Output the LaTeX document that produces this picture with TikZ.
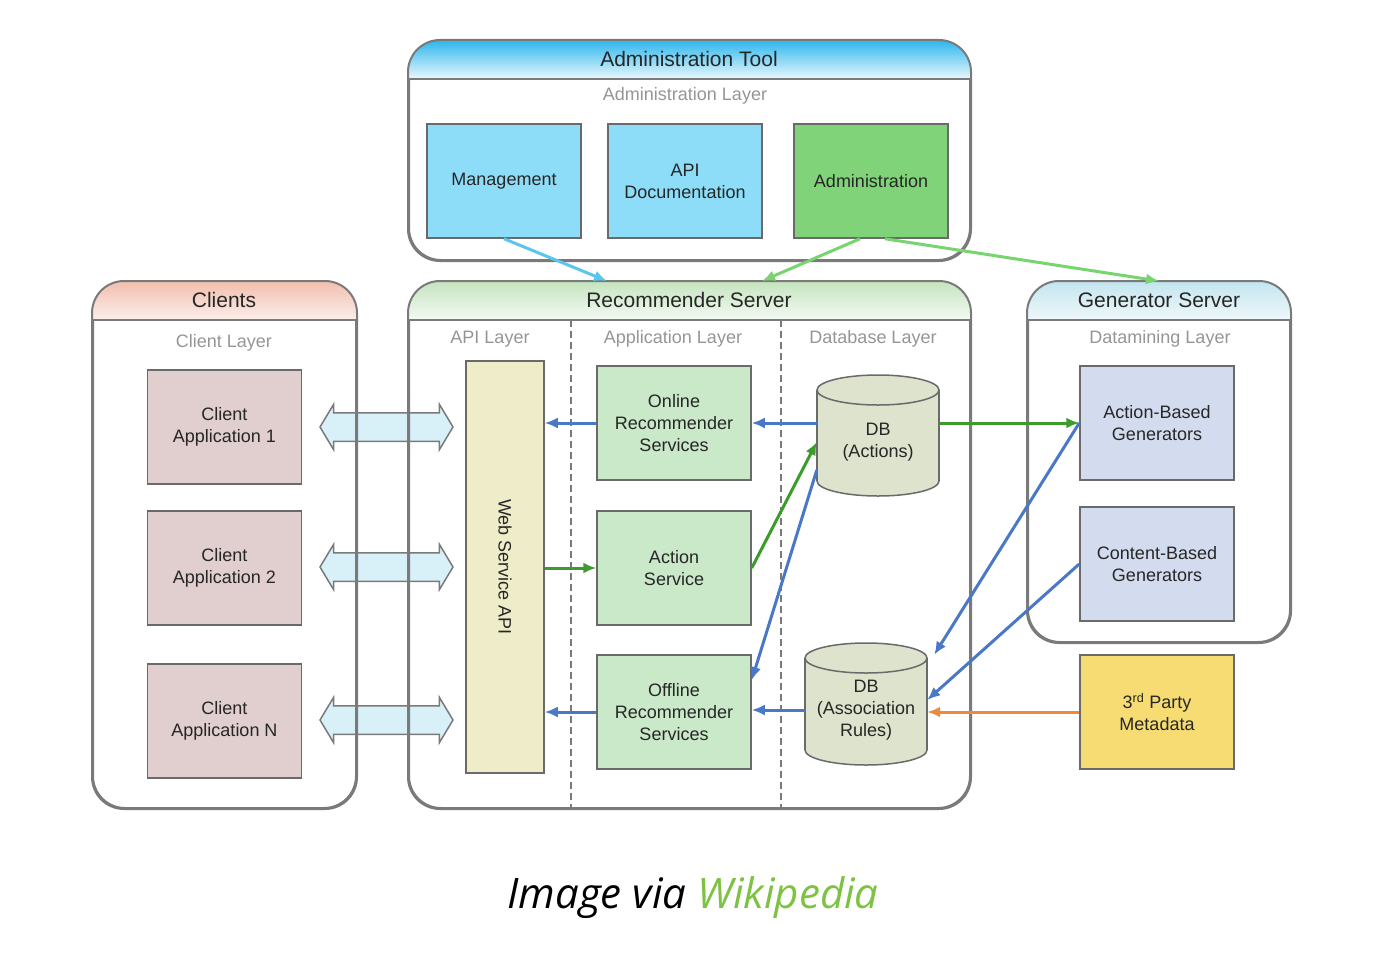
\documentclass[tikz,border=0pt]{standalone}
\usepackage{fontspec}
\setmainfont{Liberation Sans}
\newfontfamily\capfont{Open Sans}
\usetikzlibrary{arrows.meta,shapes.arrows,calc}
\definecolor{boxline}{HTML}{6A6A6A}
\definecolor{contline}{HTML}{7A7A7A}
\definecolor{txt}{HTML}{262626}
\definecolor{laytxt}{HTML}{959595}
\definecolor{mgmtfill}{HTML}{8EDDF8}
\definecolor{admfill}{HTML}{80D378}
\definecolor{clfill}{HTML}{E1CFCF}
\definecolor{wsfill}{HTML}{EFEDC9}
\definecolor{appfill}{HTML}{C9E9C9}
\definecolor{dbfill}{HTML}{DDE3CC}
\definecolor{genfill}{HTML}{D3DCEF}
\definecolor{tpfill}{HTML}{F6DC72}
\definecolor{dblfill}{HTML}{D8F0F8}
\definecolor{cblue}{HTML}{4A78C8}
\definecolor{cgreen}{HTML}{3B9B2B}
\definecolor{lgreen}{HTML}{78D46E}
\definecolor{lblue}{HTML}{58C6EF}
\definecolor{corange}{HTML}{EE8A3C}
\definecolor{wikig}{HTML}{7DC242}
\definecolor{hadmT}{HTML}{2CB6EC}
\definecolor{hadmB}{HTML}{EAF8FD}
\definecolor{hclT}{HTML}{F2BEAE}
\definecolor{hclB}{HTML}{FBEFEA}
\definecolor{hrsT}{HTML}{C4E4BE}
\definecolor{hrsB}{HTML}{F4FAF3}
\definecolor{hgenT}{HTML}{C3E5EE}
\definecolor{hgenB}{HTML}{EFF8FA}
\begin{document}
\begin{tikzpicture}[x=1pt,y=-1pt,
  box/.style={draw=boxline, line width=1.5pt, minimum width=154, minimum height=114,
    align=center, inner sep=0pt, font=\fontsize{18}{22}\selectfont, text=txt},
  cont/.style={draw=contline, line width=2pt, rounded corners=32, inner sep=0pt},
  ttl/.style={font=\fontsize{21}{25}\selectfont, text=txt, inner sep=0pt},
  lay/.style={font=\fontsize{18}{22}\selectfont, text=laytxt, inner sep=0pt},
  dbtext/.style={align=center, inner sep=0pt, font=\fontsize{18}{22}\selectfont, text=txt},
  cyl/.style={fill=dbfill, draw=boxline, line width=1.5pt},
  conn/.style={line width=3pt, -{Latex[length=13pt,width=11pt]}},
  dashsep/.style={draw=contline, line width=1.5pt, dash pattern=on 7pt off 4pt},
  dbl/.style={double arrow, draw=contline, fill=dblfill, line width=1.5pt,
    minimum height=133, minimum width=44, inner xsep=0pt, inner ysep=13.5pt,
    double arrow head extend=8.5pt, double arrow tip angle=118}
]
\useasboundingbox (0,0) rectangle (1394,958);

% double arrows (drawn first so borders show through)
\node[dbl] (a1) at (386.5,427) {};
\node[dbl] (a2) at (386.5,567) {};
\node[dbl] (a3) at (386.5,720) {};

% containers
\node[cont, minimum width=561, minimum height=219] (adm) at (689.5,150.5) {};
\node[cont, minimum width=263, minimum height=526] (cli) at (224.5,545) {};
\node[cont, minimum width=561, minimum height=526] (rs) at (689.5,545) {};
\node[cont, minimum width=262, minimum height=360] (gen) at (1159,462) {};

\begin{scope}
\clip[rounded corners=32] (adm.north west) rectangle (adm.south east);
\shade[top color=hadmT, bottom color=hadmB] (adm.north west) rectangle (970,79);
\end{scope}
\begin{scope}
\clip[rounded corners=32] (cli.north west) rectangle (cli.south east);
\shade[top color=hclT, bottom color=hclB] (cli.north west) rectangle (356,320);
\end{scope}
\begin{scope}
\clip[rounded corners=32] (rs.north west) rectangle (rs.south east);
\shade[top color=hrsT, bottom color=hrsB] (rs.north west) rectangle (970,320);
\end{scope}
\begin{scope}
\clip[rounded corners=32] (gen.north west) rectangle (gen.south east);
\shade[top color=hgenT, bottom color=hgenB] (gen.north west) rectangle (1290,320);
\end{scope}
\draw[contline, line width=2pt, rounded corners=32] (adm.north west) rectangle (adm.south east);
\draw[contline, line width=2pt, rounded corners=32] (cli.north west) rectangle (cli.south east);
\draw[contline, line width=2pt, rounded corners=32] (rs.north west) rectangle (rs.south east);
\draw[contline, line width=2pt, rounded corners=32] (gen.north west) rectangle (gen.south east);
\draw[contline, line width=2pt] (409,79) -- (970,79);
\draw[contline, line width=2pt] (93,320) -- (356,320);
\draw[contline, line width=2pt] (409,320) -- (970,320);
\draw[contline, line width=2pt] (1028,320) -- (1290,320);
\draw[dashsep] (571,320) -- (571,808);
\draw[dashsep] (781,320) -- (781,808);

% titles and layer labels
\node[ttl] (tadm) at (689,59) {Administration Tool};
\node[lay] (ladm) at (685,96) {Administration Layer};
\node[ttl] (tcli) at (224,300) {Clients};
\node[lay] (lcli) at (224,343) {Client Layer};
\node[ttl] (trs) at (689,300) {Recommender Server};
\node[lay] (lapi) at (490,339) {API Layer};
\node[lay] (lapp) at (673,339) {Application Layer};
\node[lay] (ldb) at (873,339) {Database Layer};
\node[ttl] (tgen) at (1159,300) {Generator Server};
\node[lay] (lgen) at (1160,339) {Datamining Layer};

% admin boxes
\node[box, fill=mgmtfill] (mgmt) at (504,181) {Management};
\node[box, fill=mgmtfill] (api) at (685,181) {API\\Documentation};
\node[box, fill=admfill] (admb) at (871,181) {Administration};

% client boxes
\node[box, fill=clfill] (c1) at (224.5,427) {Client\\Application 1};
\node[box, fill=clfill] (c2) at (224.5,568) {Client\\Application 2};
\node[box, fill=clfill] (c3) at (224.5,721) {Client\\Application N};

% recommender server
\node[box, fill=wsfill, minimum width=78, minimum height=412] (ws) at (505,567)
  {\rotatebox{-90}{Web Service API}};
\node[box, fill=appfill] (onl) at (674,423) {Online\\Recommender\\Services};
\node[box, fill=appfill] (act) at (674,568) {Action\\Service};
\node[box, fill=appfill] (off) at (674,712) {Offline\\Recommender\\Services};

% cylinders
\filldraw[cyl] (878,481) ellipse[x radius=61, y radius=15];
\fill[dbfill] (817,390) rectangle (939,481);
\draw[boxline, line width=1.5pt] (817,390) -- (817,481) (939,390) -- (939,481);
\filldraw[cyl] (878,390) ellipse[x radius=61, y radius=15];
\node[dbtext, minimum width=122, minimum height=108] (dba) at (878,442) {DB\\(Actions)};

\filldraw[cyl] (866,750) ellipse[x radius=61, y radius=15];
\fill[dbfill] (805,658) rectangle (927,750);
\draw[boxline, line width=1.5pt] (805,658) -- (805,750) (927,658) -- (927,750);
\filldraw[cyl] (866,658) ellipse[x radius=61, y radius=15];
\node[dbtext, minimum width=122, minimum height=110] (dbr) at (866,710) {DB\\(Association\\Rules)};

% generator boxes
\node[box, fill=genfill] (abg) at (1157,423) {Action-Based\\Generators};
\node[box, fill=genfill] (cbg) at (1157,564) {Content-Based\\Generators};
\node[box, fill=tpfill] (tpm) at (1157,712) {3\textsuperscript{rd} Party\\Metadata};

% connectors
\draw[conn, lblue] (mgmt.south) -- ([xshift=-82.5]rs.north);
\draw[conn, lgreen] ([xshift=-11]admb.south) -- ([xshift=72.5]rs.north);
\draw[conn, lgreen] ([xshift=14]admb.south) -- (gen.north);

\draw[conn, cblue] (onl.west) -- (ws.east |- onl.west);
\draw[conn, cblue] (dba.west |- onl.east) -- (onl.east);
\draw[conn, cgreen] (ws.east |- act.west) -- (act.west);
\draw[conn, cgreen] (act.east) -- (dba.west);
\draw[conn, cblue] ([yshift=-28]dba.west) -- ([yshift=32]off.east);
\draw[conn, cblue] (off.west) -- (ws.east |- off.west);
\draw[conn, cblue] (dbr.west) -- (off.east |- dbr.west);
\draw[conn, cgreen] (dba.east |- abg.west) -- (abg.west);
\draw[conn, cblue] (abg.west) -- ([xshift=7]dbr.north east);
\draw[conn, cblue] (cbg.west) -- ([yshift=10]dbr.east);
\draw[conn, corange] (tpm.west) -- (dbr.east |- tpm.west);

% caption
\node[inner sep=0pt, font=\capfont\itshape\fontsize{42}{48}\selectfont] (cap) at (693,898)
  {Image via \textcolor{wikig}{Wikipedia}};
\end{tikzpicture}
\end{document}
